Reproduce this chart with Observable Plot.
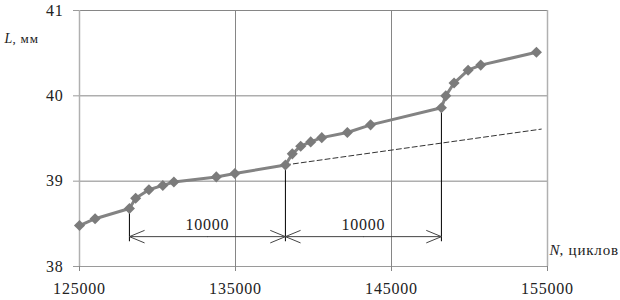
<!DOCTYPE html>
<html><head><meta charset="utf-8">
<script src="https://cdn.jsdelivr.net/npm/d3@7"></script>
<script src="https://cdn.jsdelivr.net/npm/@observablehq/plot@0.6"></script>
<style>body{margin:0;background:#fff}</style>
</head><body><div id="chart"></div>
<script>
const N = [125000,126000,128200,128600,129450,130340,131050,133770,134960,138200,138640,139180,139820,140530,142170,143660,148200,148480,149010,149910,150720,154290];
const L = [38.48,38.56,38.68,38.80,38.90,38.95,38.99,39.05,39.09,39.19,39.32,39.41,39.46,39.51,39.57,39.66,39.86,40.00,40.15,40.30,40.36,40.51];
const trendN = [138200,154600];
const trendL = [39.19,39.61];
const dimN = [128200,138200,148200];
const dimTop = [38.68,39.19,39.86];
const dimBottom = 38.29;
const dimArrowL = 38.35;
const dimLabels = ["10000","10000"];
const xTicks = [125000,135000,145000,155000];
const yTicks = [38,39,40,41];

const pts = N.map((n,i)=>({n, l:L[i]}));
const trend = trendN.map((n,i)=>({n, l:trendL[i]}));
const verts = dimN.map((n,i)=>({n, top:dimTop[i], bottom:dimBottom}));
const arrows = [];
const labels = [];
for (let i=0;i<dimN.length-1;i++){
  const mid=(dimN[i]+dimN[i+1])/2;
  arrows.push({x1:mid,x2:dimN[i],y:dimArrowL},{x1:mid,x2:dimN[i+1],y:dimArrowL});
  labels.push({n:mid, l:dimArrowL, text:dimLabels[i]});
}
const serif = "'Liberation Serif','DejaVu Serif',serif";
const chart = Plot.plot({
  width:620, height:300,
  marginLeft:79, marginRight:73, marginTop:10, marginBottom:34,
  style:{fontFamily:serif, background:"#fff"},
  x:{type:"linear", domain:[125000,155000], axis:null},
  y:{type:"linear", domain:[38,41], axis:null},
  marks:[
    Plot.ruleY(yTicks.slice(1), {stroke:"#868686", strokeWidth:1}),
    Plot.ruleX(xTicks.slice(1,3), {y1:38, y2:41, stroke:"#868686", strokeWidth:1}),
    Plot.ruleX([xTicks[0], xTicks[3]], {y1:38, y2:41, stroke:"#b0b0b0", strokeWidth:1.5}),
    Plot.ruleY([yTicks[0]], {stroke:"#9a9a9a", strokeWidth:1}),
    Plot.axisY({ticks:yTicks, tickSize:6, tickPadding:10, stroke:"#9a9a9a", fontSize:16, color:"#222", tickFormat:d=>String(d)}),
    Plot.axisX({ticks:xTicks, tickSize:5, tickPadding:11, stroke:"#868686", fontSize:16, color:"#222", tickFormat:d=>String(d)}),
    Plot.line(trend, {x:"n", y:"l", stroke:"#333", strokeWidth:1, strokeDasharray:"5,3"}),
    Plot.ruleX(verts, {x:"n", y1:"top", y2:"bottom", stroke:"#000", strokeWidth:1}),
    Plot.arrow(arrows, {x1:"x1", x2:"x2", y1:"y", y2:"y", stroke:"#444", strokeWidth:1, headAngle:45, headLength:24}),
    Plot.text(labels, {x:"n", y:"l", text:"text", dy:-12, fontSize:16, fill:"#222"}),
    Plot.line(pts, {x:"n", y:"l", stroke:"#838383", strokeWidth:3}),
    Plot.dot(pts, {x:"n", y:"l", symbol:"diamond2", r:5, fill:"#7b7b7b", stroke:"none"}),
    Plot.text(["L"], {frameAnchor:"top-left", dx:-75, dy:23, text:d=>d, fontStyle:"italic", fontSize:14, textAnchor:"start", fill:"#222"}),
    Plot.text([", мм"], {frameAnchor:"top-left", dx:-67, dy:23, text:d=>d, fontSize:13, textAnchor:"start", fill:"#222"}),
    Plot.text(["N"], {frameAnchor:"bottom-right", dx:2, dy:-12, text:d=>d, fontStyle:"italic", fontSize:15, textAnchor:"start", fill:"#222"}),
    Plot.text([", циклов"], {frameAnchor:"bottom-right", dx:12, dy:-12, text:d=>d, fontSize:15, textAnchor:"start", fill:"#222"})
  ]
});
d3.select(chart).selectAll("g[aria-label='x-axis tick label'] text, g[aria-label='y-axis tick label'] text, g[aria-label='text'] text").attr("letter-spacing", "0.8");
document.getElementById("chart").appendChild(chart);
</script>
</body></html>
